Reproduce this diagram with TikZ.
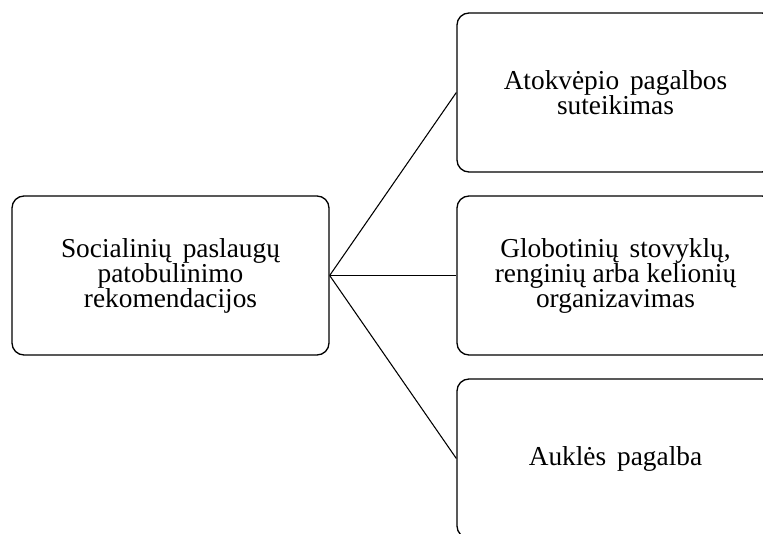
\documentclass[tikz,border=0pt]{standalone}
\usepackage{fontspec}
\setmainfont{Liberation Serif}
\newcommand{\wsp}{\hspace{0.4em}}
\begin{document}
\begin{tikzpicture}[x=0.75pt,y=-0.75pt,
  box/.style={draw=black, line width=1pt, rounded corners=9pt, fill=white,
    minimum width=237.75pt, minimum height=119.25pt, inner sep=0pt,
    align=center, font=\fontsize{20.5}{18.75}\selectfont},
  link/.style={draw=black, line width=0.8pt}]
\clip (0,0) rectangle (763,534);
\fill[white] (0,0) rectangle (763,534);
\node[box] (root) at (170.5,275.5) {Socialinių\wsp paslaugų\\patobulinimo\\rekomendacijos};
\node[box] (a) at (615.5,92.5) {Atokvėpio\wsp pagalbos\\suteikimas};
\node[box] (b) at (615.5,275.5) {Globotinių\wsp stovyklų,\\renginių arba kelionių\\organizavimas};
\node[box] (c) at (615.5,458.5) {Auklės\wsp pagalba};
\draw[link] (root.east) -- (a.west);
\draw[link] (root.east) -- (b.west);
\draw[link] (root.east) -- (c.west);
\end{tikzpicture}
\end{document}
